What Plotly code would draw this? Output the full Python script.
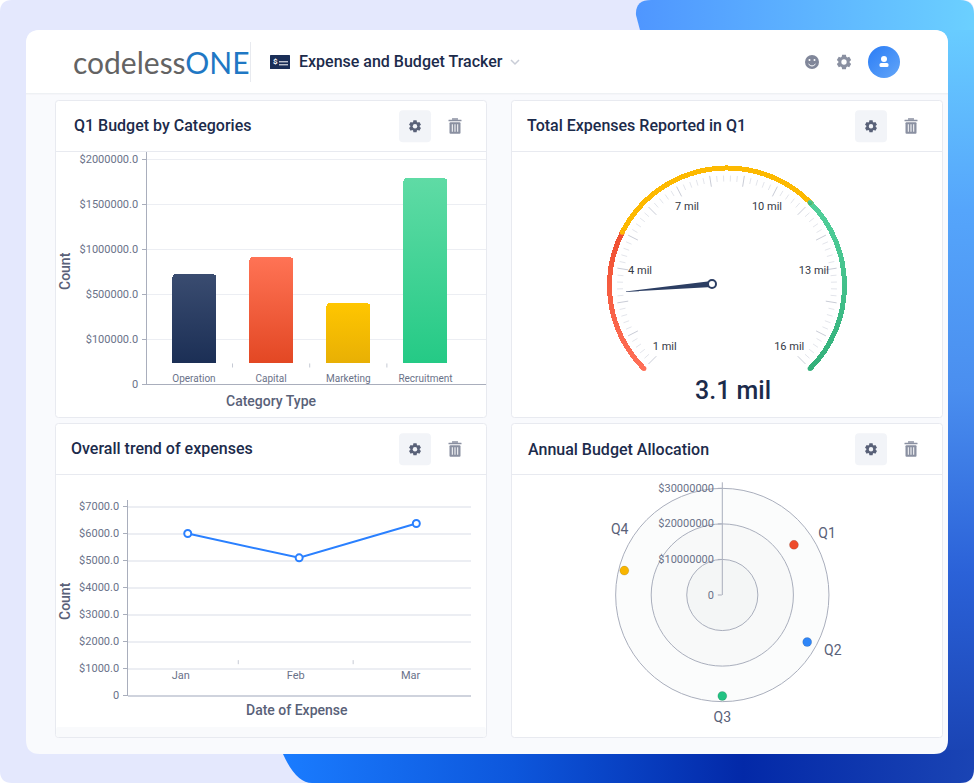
import json
import math

import numpy as np
import plotly.graph_objects as go

W, H = 974, 783

# Q1 budget bars
budget_categories = ["Operation", "Capital", "Marketing", "Recruitment"]
budget_values = [720000, 910000, 420000, 1790000]
budget_ticks = [0, 100000, 500000, 1000000, 1500000, 2000000]
budget_ticktext = ["0", "$100000.0", "$500000.0", "$1000000.0", "$1500000.0", "$2000000.0"]
budget_colors = ["#24375a", "#ee5a38", "#f0b604", "#3bd194"]

# Overall trend line
trend_months = ["Jan", "Feb", "Mar"]
trend_month_pos = [0.06, 1.03, 2.05]
trend_values = [6000, 5100, 6370]
trend_ticks = [0, 1000, 2000, 3000, 4000, 5000, 6000, 7000]
trend_ticktext = ["0", "$1000.0", "$2000.0", "$3000.0", "$4000.0", "$5000.0", "$6000.0", "$7000.0"]

# Gauge, in millions
gauge_value = 3.1
gauge_needle = 3.22
gauge_labels = [1, 4, 7, 10, 13, 16]
gauge_bands = [1, 5, 11, 16]
gauge_band_colors = ["#f86144", "#fdb900", "#43c08d"]

# Annual allocation polar
quarters = ["Q1", "Q2", "Q3", "Q4"]
quarter_r = [24600000, 27300000, 28400000, 28400000]
quarter_theta = [55, 119, 180, 284]
quarter_colors = ["#ee4c2b", "#2f86f8", "#22c282", "#f8b500"]
quarter_label_theta = [58, 116, 180, 304]
radial_ticks = [0, 10000000, 20000000, 30000000]
radial_ticktext = ["0", "$10000000", "$20000000", "$30000000"]

TEXT_DARK = "#1c2b4b"
TEXT_AXIS = "#596178"
TEXT_TICK = "#6a7289"
AXIS_LINE = "#a9aebc"
GRID = "#eceef3"
ICON = "#8a90a1"
FONT = "Roboto"

# colour of a mark -> gradient painted on it once the page is drawn
gradients = {
    "#5fb3ff": ("h", ["#4f96ff", "#6bd0ff"]),
    "#4a8eef": ("v", ["#68ccff", "#55a5fb", "#4a8eef", "#2b62d8", "#1a44b4"]),
    "#0d57dc": ("h", ["#1a7cff", "#0d57dc", "#0329a8", "#1a44b4"]),
    "#24375a": ("v", ["#3a4c70", "#14284f"]),
    "#ee5a38": ("v", ["#ff7355", "#dd3f1a"]),
    "#f0b604": ("v", ["#ffc600", "#e0a806"]),
    "#3bd194": ("v", ["#5fdba5", "#1ec882"]),
    "#f86144": ("v", ["#ef4f30", "#ff7058"]),
    "#43c08d": ("v", ["#52d09b", "#33b07a"]),
    "#4690f7": ("d", ["#2a7cf6", "#63a6f8"]),
}


def fx(x):
    return x / W


def fy(y):
    return 1 - y / H


def path(*cmds):
    out = []
    for c in cmds:
        nums = c[1:]
        pts = [f"{fx(nums[i]):.5f},{fy(nums[i + 1]):.5f}" for i in range(0, len(nums), 2)]
        out.append(c[0] + " ".join(pts))
    return " ".join(out)


def rrect(x0, y0, x1, y1, r):
    return path(("M", x0 + r, y0), ("L", x1 - r, y0), ("Q", x1, y0, x1, y0 + r),
                ("L", x1, y1 - r), ("Q", x1, y1, x1 - r, y1), ("L", x0 + r, y1),
                ("Q", x0, y1, x0, y1 - r), ("L", x0, y0 + r), ("Q", x0, y0, x0 + r, y0), ("Z",))


shapes = []


def add_path(d, fill=None, line=None, lw=0):
    shapes.append(dict(type="path", xref="paper", yref="paper", path=d, layer="below",
                       fillcolor=fill if fill else "rgba(0,0,0,0)",
                       line=dict(color=line if line else "rgba(0,0,0,0)", width=lw)))


def add_circle(cx, cy, r, fill):
    shapes.append(dict(type="circle", xref="paper", yref="paper", layer="below",
                       x0=fx(cx - r), x1=fx(cx + r), y0=fy(cy + r), y1=fy(cy - r),
                       fillcolor=fill, line=dict(width=0)))


def add_gear(cx, cy, r, hole):
    cmds = []
    for i in range(6):
        a = i * math.pi / 3
        for off, rad in [(-0.42, 0.76), (-0.26, 1.0), (0.26, 1.0), (0.42, 0.76)]:
            cmds.append(("L", cx + r * rad * math.sin(a + off), cy - r * rad * math.cos(a + off)))
    cmds[0] = ("M",) + cmds[0][1:]
    add_path(path(*cmds, ("Z",)), fill=ICON if hole == "#ffffff" else "#596178")
    add_circle(cx, cy, r * 0.36, hole)


def add_trash(cx, cy):
    add_path(rrect(cx - 5.5, cy - 4, cx + 5.5, cy + 7.5, 1), fill=ICON)
    add_path(rrect(cx - 6.5, cy - 6.5, cx + 6.5, cy - 5, 0.3), fill=ICON)
    add_path(rrect(cx - 3, cy - 8, cx + 3, cy - 6.5, 0.3), fill=ICON)
    for dx in (-2.7, 0, 2.7):
        add_path(rrect(cx + dx - 0.5, cy - 2, cx + dx + 0.5, cy + 5.5, 0), fill="#ffffff")


# page behind the card
add_path(path(("M", 0, 0), ("L", W, 0), ("L", W, H), ("L", 0, H), ("Z",)), fill="#ffffff")
add_path(rrect(0, 0, W, H, 12), fill="#e4e8fd")
add_path(path(("M", 641, 34), ("L", 636, 15), ("Q", 635, 0, 651, 0), ("L", 960, 0),
              ("Q", 974, 0, 974, 14), ("L", 974, 34), ("Z",)), fill="#5fb3ff")
add_path(path(("M", 930, 30), ("L", 974, 30), ("L", 974, 752), ("L", 930, 752), ("Z",)), fill="#4a8eef")
add_path(path(("M", 281, 750), ("L", 283, 754), ("Q", 296, 783, 312, 783), ("L", 960, 783),
              ("Q", 974, 783, 974, 769), ("L", 974, 750), ("Z",)), fill="#0d57dc")

# card and header
add_path(rrect(26, 30, 948, 754, 14), fill="#f9fafd")
add_path(path(("M", 40, 30), ("L", 934, 30), ("Q", 948, 30, 948, 44), ("L", 948, 93.5),
              ("L", 26, 93.5), ("L", 26, 44), ("Q", 26, 30, 40, 30), ("Z",)), fill="#ffffff")
add_path(path(("M", 26, 93.8), ("L", 948, 93.8)), line="#e9ebf0", lw=1)
add_path(path(("M", 250.5, 42), ("L", 250.5, 82)), line="#e8eaef", lw=1)

# panels
panels = [(55.5, 100.5, 486.5, 417.5, 151.5), (511.5, 100.5, 942.5, 417.5, 151.5),
          (55.5, 423.5, 486.5, 737.5, 474.5), (511.5, 423.5, 942.5, 737.5, 474.5)]
for x0, y0, x1, y1, head in panels:
    add_path(rrect(x0, y0, x1, y1, 3), fill="#ffffff", line="#e8eaf0", lw=1)
    add_path(path(("M", x0, head), ("L", x1, head)), line="#e8eaf0", lw=1)
    bx = 399 if x0 < 100 else 855
    tx = 455 if x0 < 100 else 911
    cy = (y0 + head) / 2 + 0.3
    add_path(rrect(bx, cy - 16, bx + 32, cy + 16, 4), fill="#f2f4f8")
    add_gear(bx + 16, cy, 6.2, "#f2f4f8")
    add_trash(tx, cy)
add_path(rrect(56.2, 727, 485.8, 737, 2), fill="#f9fafc")

# header icons
add_path(rrect(270, 55, 290, 69, 0.5), fill="#1a2e57")
add_path(path(("M", 279, 61.8), ("L", 288, 61.8)), line="#ffffff", lw=1)
add_path(path(("M", 279, 64.8), ("L", 288, 64.8)), line="#ffffff", lw=1)
add_path(path(("M", 511, 60), ("L", 515, 64), ("L", 519, 60)), line="#c9cdd7", lw=1.5)
add_circle(812, 62, 7, "#81879a")
add_circle(809.5, 60, 1, "#ffffff")
add_circle(814.5, 60, 1, "#ffffff")
add_path(path(("M", 808.5, 64), ("Q", 812, 68, 815.5, 64)), line="#ffffff", lw=1)
add_gear(844, 62, 7.4, "#ffffff")
add_circle(884, 62, 16, "#4690f7")
add_circle(884, 59, 3, "#ffffff")
add_path(rrect(879.5, 63, 888.5, 67, 1.5), fill="#ffffff")


def note(text, x, y, size, color, weight=400, xanchor="left", angle=0, family=FONT):
    # annotations pad their box by about 2px
    xpad = -2 if xanchor == "left" else 0
    return dict(text=text, x=fx(x), xshift=xpad, y=fy(y), xref="paper", yref="paper", showarrow=False,
                xanchor=xanchor, yanchor="middle", textangle=angle, align="left",
                font=dict(size=size, color=color, weight=weight, family=family))


annotations = [
    note("codeless<span style='color:#1f78c4'>ONE</span>", 73, 62, 30, "#636363", family="Lato"),
    note("Expense and Budget Tracker", 299, 61.5, 16, TEXT_DARK, 500),
    note("$", 275, 62, 8, "#ffffff", 700, xanchor="center"),
    note("Q1 Budget by Categories", 74, 125.5, 16, TEXT_DARK, 500),
    note("Total Expenses Reported in Q1", 527, 125.5, 16, TEXT_DARK, 500),
    note("Overall trend of expenses", 71, 448.5, 16, TEXT_DARK, 500),
    note("Annual Budget Allocation", 528, 449, 16, TEXT_DARK, 500),
    note("Category Type", 271, 401, 14, TEXT_AXIS, 500, xanchor="center"),
    note("Date of Expense", 296.7, 710, 14, TEXT_AXIS, 500, xanchor="center"),
    note("Count", 65, 271, 14, TEXT_AXIS, 500, xanchor="center", angle=-90),
    note("Count", 65, 601, 14, TEXT_AXIS, 500, xanchor="center", angle=-90),
    note(f"{gauge_value} mil", 733, 391, 25, TEXT_DARK, 500, xanchor="center"),
]

fig = go.Figure()

# bar chart: the tick labels are not evenly spaced in value, so map through them.
# bars live on a second y axis with the same scale that stops at bar_floor, which cuts them flat
budget_pos = np.interp(budget_values, budget_ticks, range(len(budget_ticks)))
bar_floor = 0.467
fig.add_trace(go.Bar(x=budget_categories, y=budget_pos, width=0.57,
                     marker=dict(color=budget_colors, line=dict(width=0), cornerradius=4),
                     xaxis="x", yaxis="y4", showlegend=False))
for sep in (0.5, 1.5, 2.5):
    shapes.append(dict(type="line", xref="x", yref="y", x0=sep, x1=sep, y0=bar_floor - 0.09, y1=bar_floor,
                       line=dict(color="#c6cad4", width=1)))

# trend line
fig.add_trace(go.Scatter(x=trend_month_pos, y=trend_values, mode="lines+markers",
                         line=dict(color="#2a80ff", width=2),
                         marker=dict(size=7, color="#ffffff", line=dict(color="#2a80ff", width=2)),
                         xaxis="x2", yaxis="y2", showlegend=False))
for sep in (0.5, 1.5):
    shapes.append(dict(type="line", xref="x2", yref="y2", x0=sep, x1=sep, y0=1160, y1=1310,
                       line=dict(color="#c6cad4", width=1)))


# gauge
def gauge_angle(v):
    return -135 + (v - 1) * 18


for lo, hi, color in zip(gauge_bands[:-1], gauge_bands[1:], gauge_band_colors):
    a0, a1 = gauge_angle(lo), gauge_angle(hi)
    fig.add_trace(go.Barpolar(theta=[(a0 + a1) / 2], width=[a1 - a0], base=[115], r=[5],
                              marker=dict(color=color, line=dict(width=0)),
                              subplot="polar", showlegend=False))
    fig.add_trace(go.Scatterpolar(r=[117.5, 117.5], theta=[a0, a1], mode="markers",
                                  marker=dict(size=5, color=["#ff7058" if lo == 1 else color,
                                                             "#33b07a" if hi == 16 else color]),
                                  subplot="polar", showlegend=False))

major_r, major_t, minor_r, minor_t = [], [], [], []
for k in range(76):
    v = 1 + k * 0.2
    if k % 5 == 0:
        major_r += [100, 111, None]
        major_t += [gauge_angle(v)] * 2 + [None]
    else:
        minor_r += [104, 110, None]
        minor_t += [gauge_angle(v)] * 2 + [None]
fig.add_trace(go.Scatterpolar(r=minor_r, theta=minor_t, mode="lines", line=dict(color="#e3e5eb", width=1),
                              subplot="polar", showlegend=False))
fig.add_trace(go.Scatterpolar(r=major_r, theta=major_t, mode="lines", line=dict(color="#c9ccd6", width=1),
                              subplot="polar", showlegend=False))
fig.add_trace(go.Scatterpolar(r=[88] * len(gauge_labels), theta=[gauge_angle(v) for v in gauge_labels],
                              text=[f"{v} mil" for v in gauge_labels], mode="text",
                              textposition="middle center",
                              textfont=dict(size=11, color="#343945", family=FONT),
                              subplot="polar", showlegend=False))

# needle sits off the arc centre, same as the picture
hub = (-15, 1.5)
needle_a = math.radians(gauge_angle(gauge_needle))
dirx, diry = math.sin(needle_a), math.cos(needle_a)
tip = (hub[0] + 91 * dirx, hub[1] + 91 * diry)
fig.add_trace(go.Scatter(x=[hub[0] - 3 * diry, tip[0], hub[0] + 3 * diry],
                         y=[hub[1] + 3 * dirx, tip[1], hub[1] - 3 * dirx],
                         mode="lines", fill="toself", fillcolor="#2c3e63", line=dict(width=0, color="#2c3e63"),
                         xaxis="x3", yaxis="y3", showlegend=False))
fig.add_trace(go.Scatter(x=[hub[0]], y=[hub[1]], mode="markers",
                         marker=dict(size=8, color="#ffffff", line=dict(color="#2c3e63", width=2)),
                         xaxis="x3", yaxis="y3", showlegend=False))

# annual allocation
fig.add_trace(go.Barpolar(r=[30000000, 20000000, 10000000], theta=[180, 180, 180], width=[360, 360, 360],
                          marker=dict(color=["#fbfcfc", "#f8f9f9", "#f4f6f6"], line=dict(color=AXIS_LINE, width=1)),
                          subplot="polar2", showlegend=False))
fig.add_trace(go.Scatterpolar(r=quarter_r, theta=quarter_theta, mode="markers",
                              marker=dict(size=9, color=quarter_colors, line=dict(color="rgba(0,0,0,0.12)", width=1)),
                              subplot="polar2", showlegend=False))

tick_font = dict(size=11, color=TEXT_TICK, family=FONT)
GAUGE_R = 122
GX, GY = 727, 285.5
POLAR_R = 112.7
PX, PY = 722.3, 595

fig.update_layout(
    template="none",
    width=W, height=H, margin=dict(l=0, r=0, t=0, b=0, pad=0), paper_bgcolor="#ffffff", plot_bgcolor="rgba(0,0,0,0)",
    font=dict(family=FONT), shapes=shapes, annotations=annotations, bargap=0,
    xaxis=dict(domain=[fx(147.3), fx(486)], range=[-0.604, 3.784], type="category", automargin=False,
               categoryorder="array", categoryarray=budget_categories,
               anchor="free", position=fy(370.5), showline=False, showgrid=False, zeroline=False, ticks="",
               tickfont=dict(size=10, color=TEXT_TICK, family=FONT)),
    yaxis=dict(domain=[fy(384.5), fy(152)], range=[0, 5.156], tickvals=list(range(len(budget_ticks))),
               ticktext=budget_ticktext, anchor="x", showline=True, linecolor=AXIS_LINE, linewidth=1, automargin=False,
               ticks="outside", ticklen=4, tickcolor=AXIS_LINE, gridcolor=GRID, gridwidth=1,
               zeroline=True, zerolinecolor=AXIS_LINE, zerolinewidth=1, tickfont=tick_font, ticklabelstandoff=2),
    yaxis4=dict(domain=[fy(363), fy(152)], range=[bar_floor, 5.156], anchor="x", visible=False, automargin=False),
    xaxis2=dict(domain=[fx(128.3), fx(471)], range=[-0.4575, 2.526], tickvals=[0, 1, 2], ticktext=trend_months,
                anchor="free", position=fy(667), showline=False, showgrid=False, zeroline=False, ticks="",
                automargin=False, tickfont=dict(size=11, color=TEXT_TICK, family=FONT)),
    yaxis2=dict(domain=[fy(695.5), fy(499.5)], range=[0, 7260], tickvals=trend_ticks, ticktext=trend_ticktext,
                anchor="x2", showline=True, linecolor=AXIS_LINE, linewidth=1, ticks="outside", ticklen=4,
                tickcolor=AXIS_LINE, gridcolor=GRID, gridwidth=1.5, zeroline=True, zerolinecolor="#cfd3dd",
                automargin=False, zerolinewidth=2, tickfont=tick_font, ticklabelstandoff=2),
    xaxis3=dict(domain=[fx(GX - GAUGE_R), fx(GX + GAUGE_R)], range=[-GAUGE_R, GAUGE_R], visible=False,
                anchor="y3", fixedrange=True, automargin=False),
    yaxis3=dict(domain=[fy(GY + GAUGE_R), fy(GY - GAUGE_R)], range=[-GAUGE_R, GAUGE_R], visible=False,
                anchor="x3", fixedrange=True, automargin=False),
    polar=dict(domain=dict(x=[fx(GX - GAUGE_R), fx(GX + GAUGE_R)], y=[fy(GY + GAUGE_R), fy(GY - GAUGE_R)]),
               bgcolor="rgba(0,0,0,0)", barmode="overlay",
               radialaxis=dict(range=[0, GAUGE_R], visible=False),
               angularaxis=dict(visible=False, rotation=90, direction="clockwise")),
    polar2=dict(domain=dict(x=[fx(PX - POLAR_R), fx(PX + POLAR_R)], y=[fy(PY + POLAR_R), fy(PY - POLAR_R)]),
                bgcolor="rgba(0,0,0,0)", barmode="overlay",
                radialaxis=dict(range=[0, 31700000], angle=90, side="counterclockwise", tickvals=radial_ticks,
                                ticktext=radial_ticktext, showgrid=False, showline=True, linecolor=AXIS_LINE,
                                ticks="outside", ticklen=4, tickcolor=AXIS_LINE, tickangle=90,
                                tickfont=dict(size=11, color=TEXT_TICK, family=FONT)),
                angularaxis=dict(rotation=90, direction="clockwise", thetaunit="degrees",
                                 tickvals=quarter_label_theta, ticktext=quarters, showgrid=False,
                                 showline=False, ticks="", tickfont=dict(size=14, color=TEXT_AXIS, family=FONT))),
)


def rgb(hexcolor):
    return "rgb({}, {}, {})".format(*[int(hexcolor[i:i + 2], 16) for i in (1, 3, 5)])


grad_spec = json.dumps({rgb(k): v for k, v in gradients.items()})
post = """
document.body.style.margin = '0';
var spec = %s;
var defs = document.querySelector('.main-svg defs');
var ns = 'http://www.w3.org/2000/svg';
var n = 0;
Object.keys(spec).forEach(function (key) {
  var g = document.createElementNS(ns, 'linearGradient');
  var id = 'fade' + (n++);
  g.setAttribute('id', id);
  g.setAttribute('x1', '0'); g.setAttribute('y1', '0');
  g.setAttribute('x2', spec[key][0] === 'v' ? '0' : '1');
  g.setAttribute('y2', spec[key][0] === 'h' ? '0' : '1');
  spec[key][1].forEach(function (c, i, all) {
    var s = document.createElementNS(ns, 'stop');
    s.setAttribute('offset', i / (all.length - 1));
    s.setAttribute('stop-color', c);
    g.appendChild(s);
  });
  defs.appendChild(g);
  document.querySelectorAll('.main-svg path').forEach(function (p) {
    if (p.style.fill === key) { p.style.fill = 'url(#' + id + ')'; }
  });
});
""" % grad_spec

fig.write_html("out.html", post_script=post, config=dict(displayModeBar=False))
